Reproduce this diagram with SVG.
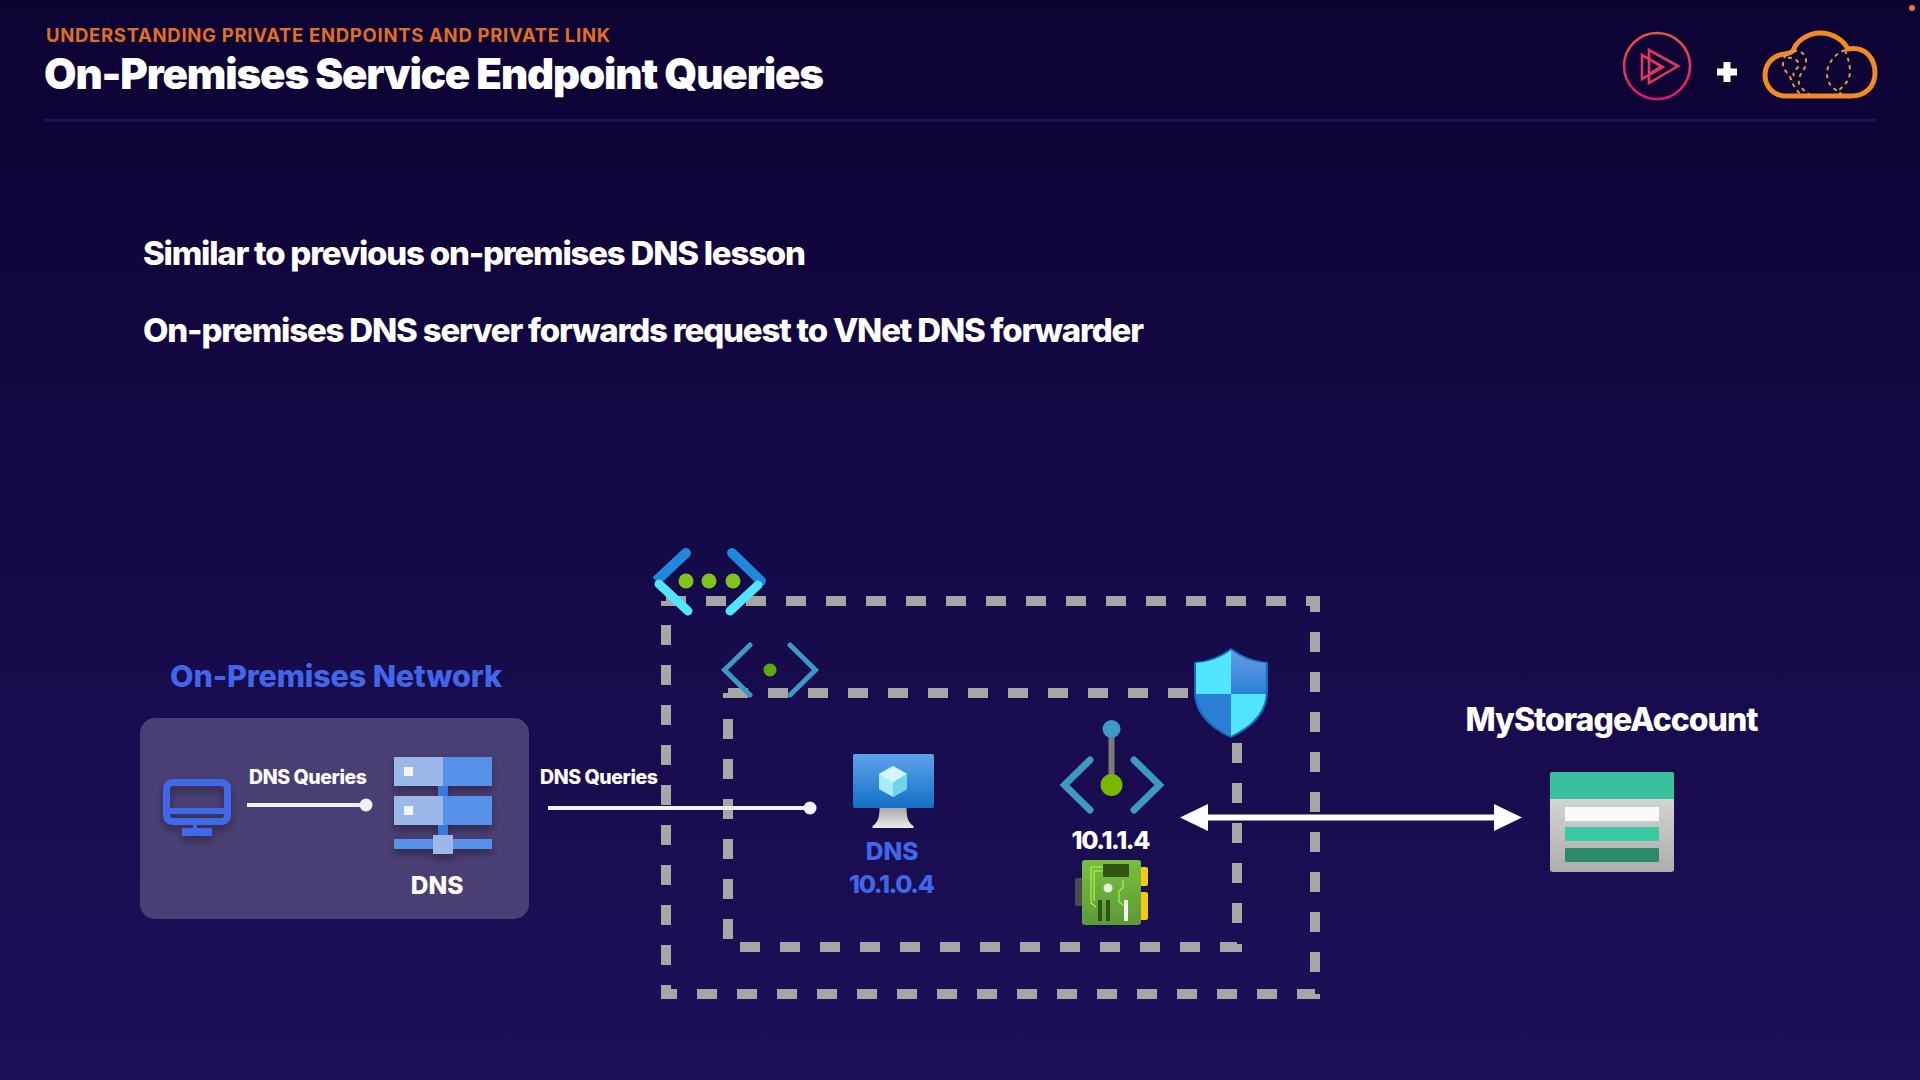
<svg xmlns="http://www.w3.org/2000/svg" width="1920" height="1080" viewBox="0 0 1920 1080">
<style>
text{font-family:"Inter","Liberation Sans",sans-serif;font-weight:800;fill:#fff}
.blue{fill:#4166e8}
.dash{fill:none;stroke:#a6a6a6;stroke-width:10;stroke-dasharray:20 20}
.stub{fill:#a6a6a6}
.link{fill:none;stroke:#f4f2f8;stroke-width:4;stroke-linecap:butt}
.chev{fill:none;stroke:#3d98c4;stroke-linecap:round;stroke-linejoin:miter}
.dot{fill:#f4f2f8}
</style>
<defs>
<linearGradient id="bg" x1="0" y1="0" x2="0" y2="1"><stop offset="0" stop-color="#0c0232"/><stop offset=".5" stop-color="#150a48"/><stop offset="1" stop-color="#1d1059"/></linearGradient>
<linearGradient id="ring" x1="0" y1="0" x2="0" y2="1"><stop offset="0" stop-color="#e8563f"/><stop offset="1" stop-color="#e0156f"/></linearGradient>
<linearGradient id="screen" x1="0" y1="0" x2="0" y2="1"><stop offset="0" stop-color="#5ea3ee"/><stop offset="1" stop-color="#1270c4"/></linearGradient>
<linearGradient id="stand" x1="0" y1="0" x2="0" y2="1"><stop offset="0" stop-color="#a8a8a8"/><stop offset="1" stop-color="#ececec"/></linearGradient>
<linearGradient id="store" x1="0" y1="0" x2="0" y2="1"><stop offset="0" stop-color="#e2e2e2"/><stop offset="1" stop-color="#adadad"/></linearGradient>
<linearGradient id="nic" x1="0" y1="0" x2="0" y2="1"><stop offset="0" stop-color="#78bf3f"/><stop offset="1" stop-color="#5c9a36"/></linearGradient>
<linearGradient id="shA" x1="0" y1="0" x2="0" y2="1"><stop offset="0" stop-color="#6a9ee8"/><stop offset="1" stop-color="#2a7fd4"/></linearGradient>
<filter id="sh" x="-20%" y="-20%" width="140%" height="150%"><feDropShadow dx="0" dy="5" stdDeviation="4" flood-color="#000" flood-opacity=".35"/></filter>
<clipPath id="shieldClip"><path d="M1231 650c10 8 22 12 35 13v28c0 20-14 35-35 45c-21-10-35-25-35-45v-28c13-1 25-5 35-13z"/></clipPath>
</defs>
<rect id="background" width="1920" height="1080" fill="url(#bg)"/>

<g id="header">
<text x="46" y="42" font-size="18.5" style="font-weight:700;fill:#e0701f" textLength="564" lengthAdjust="spacing">UNDERSTANDING PRIVATE ENDPOINTS AND PRIVATE LINK</text>
<text x="44" y="89" font-size="42" style="font-weight:900" textLength="780" lengthAdjust="spacing">On-Premises Service Endpoint Queries</text>
<rect x="44" y="119" width="1832" height="2.5" fill="#1d1650"/>
</g>

<g id="logos">
<circle cx="1657" cy="66" r="33" fill="none" stroke="url(#ring)" stroke-width="2.6"/>
<path d="M1649 50v33l29-17zM1642 55v24l21-12zM1649 59l12 7.500-12 7.500" fill="none" stroke="#e0375a" stroke-width="2.6"/>
<path d="M1727 62v20M1717 72h20" stroke="#fff" stroke-width="7"/>
<path d="M1786 96c-12 0-21-9-21-21c0-11 8-20 20-21c4-1 6-1 8-3c3-10 15-18 27-18c13 0 23 7 28 16c17-3 27 9 27 24c0 14-10 23-24 23z" fill="none" stroke="#f08a24" stroke-width="5"/>
<path d="M1793 51c7-1 13 3 13 10c0 7-3 9-5 13c-3 5-3 10 0 13c3 4 6 6 9 8M1793 51c-6 1-10 6-10 13c0 6 5 9 7 13c2 5 3 8 6 12l4 5M1788 58c4-1 8 1 10 4c2 3 0 6-3 8c-2 2-2 4-1 6M1845 50c-9 3-18 13-18 24c0 8 4 13 9 16l-2 5M1845 50c3 8 5 14 5 22c0 8-6 14-12 19l4 4" fill="none" stroke="#e39a3e" stroke-width="2" stroke-dasharray="4 4"/>
<circle cx="1912" cy="8" r="3" fill="#e0832a"/>
</g>

<g id="intro-text">
<text x="143" y="265" font-size="33" textLength="663" lengthAdjust="spacing">Similar to previous on-premises DNS lesson</text>
<text x="143" y="342" font-size="33" textLength="1001" lengthAdjust="spacing">On-premises DNS server forwards request to VNet DNS forwarder</text>
</g>

<g id="boundaries">
<path id="vnet-boundary" class="dash" d="M666 601H1306"/>
<path class="stub" d="M661 601h5v5h-5zM661 985h10v4h6v10h-16zM1306 596h14v16h-10v-6h-4zM1297 989h18v5h5v5h-23z"/>
<path class="dash" d="M666 625V975"/>
<path class="dash" d="M697 994H1297"/>
<path class="dash" d="M1315 632V982"/>
<path id="subnet-boundary" class="dash" d="M728 693H1188"/>
<path class="stub" d="M723 693h5v5h-5zM1220 942h17v2h5v8h-22z"/>
<path class="dash" d="M728 719V939"/>
<path class="dash" d="M740 947H1220"/>
<path class="dash" d="M1237 743V923"/>
</g>

<g id="onprem-network">
<text class="blue" x="336" y="687" font-size="30.500" text-anchor="middle" textLength="332" lengthAdjust="spacing">On-Premises Network</text>
<rect x="140" y="718" width="389" height="201" rx="15" fill="#4a3f74"/>
</g>

<g id="client" filter="url(#sh)">
<rect x="166.500" y="782.500" width="61" height="39" rx="6" fill="none" stroke="#4169e8" stroke-width="7"/>
<rect x="168" y="808" width="58" height="6" fill="#4169e8"/>
<rect x="193" y="824" width="4" height="6" fill="#4169e8"/>
<rect x="182" y="828" width="30" height="8" fill="#4169e8"/>
</g>

<g id="dns-server">
<g filter="url(#sh)">
<rect x="438" y="786" width="10" height="10" fill="#3a78e0"/>
<rect x="438" y="825" width="10" height="14" fill="#3a78e0"/>
<rect x="394" y="757" width="49" height="29" fill="#9cb8ea"/><rect x="443" y="757" width="49" height="29" fill="#5690e8"/>
<rect x="394" y="796" width="49" height="29" fill="#9cb8ea"/><rect x="443" y="796" width="49" height="29" fill="#5690e8"/>
<rect x="394" y="839" width="98" height="10" fill="#5690e8"/>
<rect x="433" y="835" width="20" height="19" fill="#9cb8ea"/>
</g>
<rect x="404" y="767" width="9" height="9" fill="#f2f5fc"/>
<rect x="404" y="806" width="9" height="9" fill="#f2f5fc"/>
<text x="437" y="894" font-size="24.500" text-anchor="middle">DNS</text>
</g>

<g id="connectors">
<g id="query-local">
<text x="308" y="784" font-size="19.500" text-anchor="middle" textLength="118" lengthAdjust="spacing">DNS Queries</text>
<path class="link" d="M247 805H366"/><circle class="dot" cx="366" cy="805" r="6.500"/>
</g>
<g id="query-forward">
<text x="599" y="784" font-size="19.500" text-anchor="middle" textLength="118" lengthAdjust="spacing">DNS Queries</text>
<path class="link" d="M548 808H810"/><circle class="dot" cx="810" cy="808" r="6.500"/>
</g>
<g id="endpoint-storage">
<path d="M1205 817.500H1497" stroke="#fff" stroke-width="6"/>
<path d="M1180 817.500L1208 804V831zM1522 817.500L1494 804V831z" fill="#fff"/>
</g>
</g>

<g id="vnet-icon">
<path d="M686 553L656 581L686 553" fill="none" stroke="#2088dc" stroke-width="10" stroke-linecap="round"/>
<path d="M659 584L688 611" fill="none" stroke="#50e6ff" stroke-width="9" stroke-linecap="round"/>
<path d="M732 553L761 581" fill="none" stroke="#2088dc" stroke-width="10" stroke-linecap="round"/>
<path d="M758 585L730 611" fill="none" stroke="#50e6ff" stroke-width="9" stroke-linecap="round"/>
<circle cx="686" cy="581" r="7.500" fill="#7fc31c"/><circle cx="709" cy="581" r="7.500" fill="#7fc31c"/><circle cx="733" cy="581" r="7.500" fill="#7fc31c"/>
</g>

<g id="subnet-icon">
<path class="chev" stroke-width="5" d="M750 645L724.500 670L750 695M790 645L815.500 670L790 695"/>
<circle cx="770" cy="670" r="6.500" fill="#5ea80a"/>
</g>

<g id="dns-vm">
<path d="M885 808h22c0 10 2 15 7 18v2h-41v-2c5-3 7-8 7-18z" fill="url(#stand)" transform="translate(-.5 0)"/>
<rect x="853" y="754" width="81" height="54" rx="2" fill="url(#screen)"/>
<path d="M893 766l14 8v15l-14 8l-14-8v-15z" fill="#a8ecf8"/>
<path d="M893 782l14-8v15l-14 8z" fill="#6fd4ec"/>
<path d="M893 766l14 8l-14 8l-14-8z" fill="#d2f6fb"/>
<text class="blue" x="892" y="860" font-size="24.500" text-anchor="middle">DNS</text>
<text class="blue" x="892" y="893" font-size="25" text-anchor="middle" textLength="86" lengthAdjust="spacing">10.1.0.4</text>
</g>

<g id="private-endpoint">
<path d="M1111.500 735V780" stroke="#7a7a7a" stroke-width="6"/>
<circle cx="1111.500" cy="729" r="9" fill="#3d98c4"/>
<circle cx="1111.500" cy="785" r="11" fill="#76b900"/>
<path class="chev" stroke-width="7" d="M1090 760L1064.500 785L1090 810M1134 760L1159.500 785L1134 810"/>
<text x="1111" y="849" font-size="25" text-anchor="middle" textLength="79" lengthAdjust="spacing">10.1.1.4</text>
</g>

<g id="nic">
<rect x="1075" y="878" width="8" height="28" rx="2" fill="#4a4a4a"/>
<path d="M1140 867h6a2 2 0 0 1 2 2v15a2 2 0 0 1-2 2h-6zM1140 892h6a2 2 0 0 1 2 2v24a2 2 0 0 1-2 2h-6z" fill="#f4c916"/>
<rect x="1082" y="860" width="59" height="65" rx="3" fill="url(#nic)"/>
<rect x="1103" y="864" width="26" height="13" rx="1" fill="#2f5414"/>
<circle cx="1108" cy="888" r="4.500" fill="#e8eee0"/>
<rect x="1098" y="900" width="4" height="21" fill="#2f5414"/><rect x="1106" y="900" width="4" height="21" fill="#2f5414"/>
<rect x="1124" y="900" width="4" height="21" fill="#f0f4ea"/>
<path d="M1103 867h-12v36l5 4M1103 871h-9v30M1123 880v8l-4 3v11l4 3" fill="none" stroke="#b6f050" stroke-width="1.200"/>
</g>

<g id="nsg-shield">
<path d="M1231 648c11 8 23 13 37 14v29c0 22-15 37-37 47c-22-10-37-25-37-47v-29c14-1 26-6 37-14z" fill="#1669bf"/>
<g clip-path="url(#shieldClip)">
<rect x="1196" y="648" width="35" height="46" fill="#50e6ff"/>
<rect x="1231" y="648" width="35" height="46" fill="url(#shA)"/>
<rect x="1196" y="694" width="35" height="46" fill="#2a7fd4"/>
<rect x="1231" y="694" width="35" height="46" fill="#50e6ff"/>
</g>
</g>

<g id="storage-account">
<text x="1612" y="731" font-size="32" text-anchor="middle" textLength="293" lengthAdjust="spacing">MyStorageAccount</text>
<rect x="1550" y="772" width="124" height="100" rx="3" fill="url(#store)"/>
<path d="M1550 799v-24a3 3 0 0 1 3-3h118a3 3 0 0 1 3 3v24z" fill="#3bc09d"/>
<rect x="1565" y="807" width="94" height="14" rx="1" fill="#fafafa"/>
<rect x="1565" y="827" width="94" height="14" rx="1" fill="#3acba5"/>
<rect x="1565" y="848" width="94" height="14" rx="1" fill="#2c8a6c"/>
</g>
</svg>
